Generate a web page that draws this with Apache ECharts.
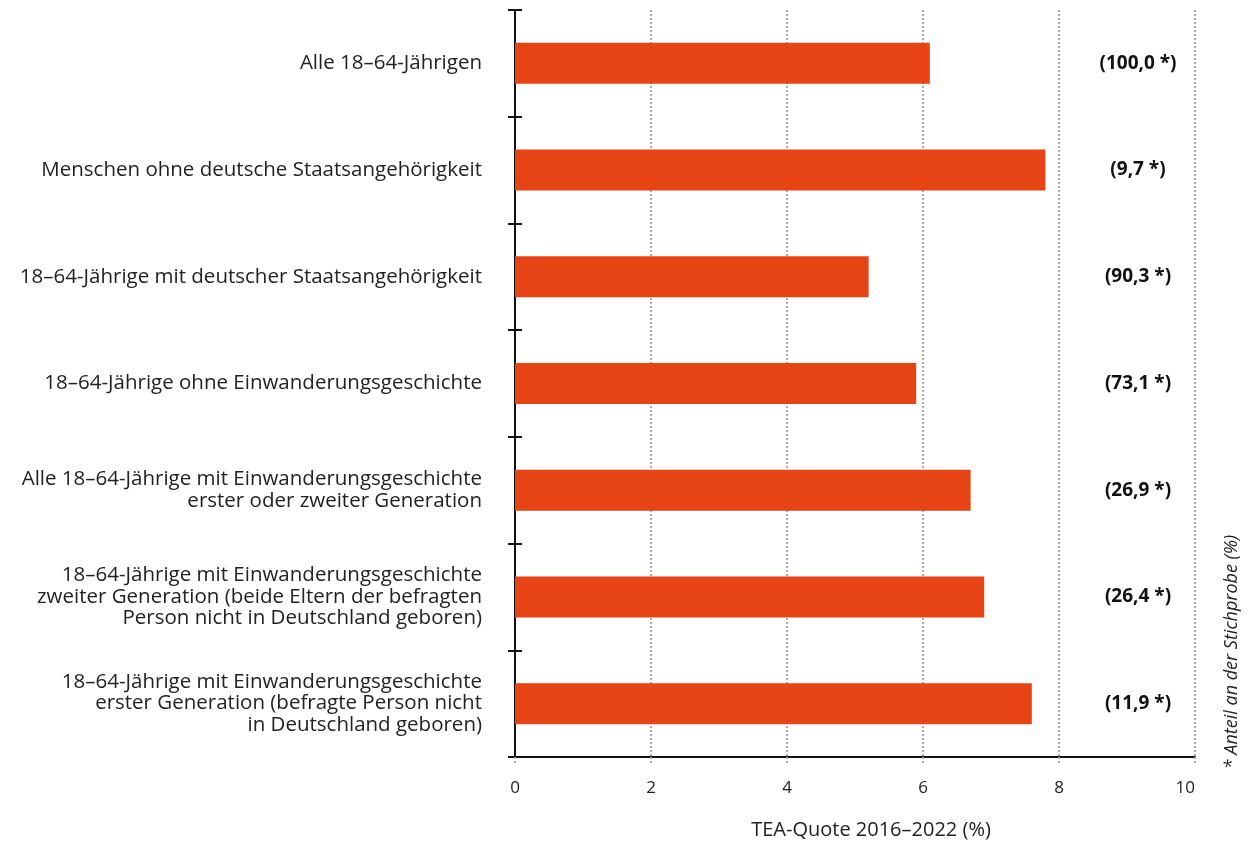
<!DOCTYPE html>
<html><head><meta charset="utf-8">
<script src="https://cdn.jsdelivr.net/npm/echarts@6/dist/echarts.min.js"></script>
<style>html,body{margin:0;padding:0;background:#fff}#c{width:1251px;height:843px}</style>
</head><body><div id="c"></div>
<script>
const categories = [
  "Alle 18–64-Jährigen",
  "Menschen ohne deutsche Staatsangehörigkeit",
  "18–64-Jährige mit deutscher Staatsangehörigkeit",
  "18–64-Jährige ohne Einwanderungsgeschichte",
  "Alle 18–64-Jährige mit Einwanderungsgeschichte\nerster oder zweiter Generation",
  "18–64-Jährige mit Einwanderungsgeschichte\nzweiter Generation (beide Eltern der befragten\nPerson nicht in Deutschland geboren)",
  "18–64-Jährige mit Einwanderungsgeschichte\nerster Generation (befragte Person nicht\nin Deutschland geboren)"
];
const teaQuote = [6.1, 7.8, 5.2, 5.9, 6.7, 6.9, 7.6];
const sampleShare = ["100,0", "9,7", "90,3", "73,1", "26,9", "26,4", "11,9"];
const xTicks = [0, 2, 4, 6, 8, 10];

const FONT = "Open Sans";
const chart = echarts.init(document.getElementById('c'), null, {renderer: 'canvas'});
chart.setOption({
  animation: false,
  textStyle: {fontFamily: FONT},
  grid: {left: 515, right: 56, top: 10, bottom: 86, containLabel: false, outerBoundsMode: 'none'},
  xAxis: {
    type: 'value', min: xTicks[0], max: xTicks[xTicks.length - 1], interval: 2,
    name: 'TEA-Quote 2016–2022 (%)', nameLocation: 'middle', nameGap: 63,
    nameTextStyle: {fontSize: 20, color: '#222', fontFamily: FONT, padding: [0, 0, 0, 32]},
    axisLine: {show: true, lineStyle: {color: '#111', width: 2}},
    axisTick: {show: true, length: 7, lineStyle: {color: '#aaa', type: [2, 2], width: 2}},
    axisLabel: {fontSize: 17, color: '#222', margin: 23, fontFamily: FONT, alignMaxLabel: 'right'},
    splitLine: {show: true, lineStyle: {color: '#aaa', type: [2, 2], width: 2}}
  },
  yAxis: [{
    type: 'category', data: categories, inverse: true,
    axisLine: {show: true, onZero: false, lineStyle: {color: '#111', width: 2}},
    axisTick: {show: true, length: 7, lineStyle: {color: '#111', width: 2}},
    axisLabel: {fontSize: 20.5, color: '#222', margin: 33, lineHeight: 21.5, fontFamily: FONT, align: 'right'}
  }, {
    type: 'category', data: categories, inverse: true, position: 'left',
    axisLine: {show: false},
    axisTick: {show: true, inside: true, length: 7, lineStyle: {color: '#111', width: 2}},
    axisLabel: {show: false}
  }, {
    type: 'category', data: sampleShare, inverse: true, position: 'right', offset: -57,
    axisLine: {show: false}, axisTick: {show: false},
    axisLabel: {fontSize: 19, fontWeight: 'bold', color: '#111', margin: 0, align: 'center',
      fontFamily: FONT, formatter: v => '(' + v + ' *)'}
  }],
  series: [{
    type: 'bar', data: teaQuote, yAxisIndex: 0, barWidth: 41,
    itemStyle: {color: '#E64414'}
  }],
  graphic: [{
    type: 'text', x: 1232, y: 652, rotation: Math.PI / 2,
    style: {text: '* Anteil an der Stichprobe (%)', font: 'italic 18px "' + FONT + '"',
      fill: '#222', textAlign: 'center', textVerticalAlign: 'middle'}
  }]
});
</script></body></html>
